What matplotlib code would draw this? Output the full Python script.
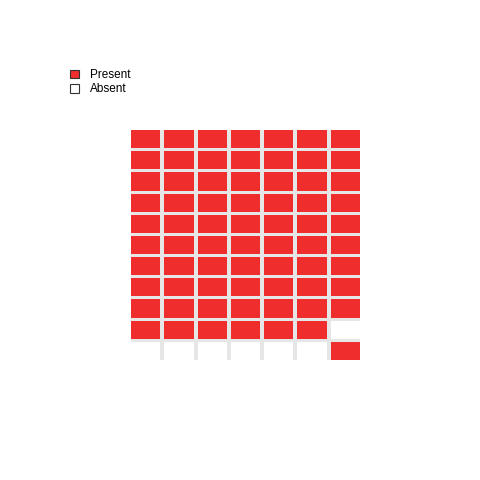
import matplotlib
matplotlib.use('Agg')
from matplotlib import pyplot as plt
from matplotlib.patches import Patch

plt.rcParams['font.family'] = ['Liberation Sans', 'DejaVu Sans']

# waffle grid, top row first (P = present, A = absent)
grid_rows = [
    'PPPPPPP',
    'PPPPPPP',
    'PPPPPPP',
    'PPPPPPP',
    'PPPPPPP',
    'PPPPPPP',
    'PPPPPPP',
    'PPPPPPP',
    'PPPPPPP',
    'PPPPPPA',
    'AAAAAAP',
]
categories = ['Present', 'Absent']
codes = {'P': 'Present', 'A': 'Absent'}
colors = {'Present': '#ef2d2d', 'Absent': '#ffffff'}

fig = plt.figure(figsize=(4.8, 4.8), dpi=100)
ax = fig.add_axes([131/480, 120/480, 229/480, 230/480])
ax.set_facecolor('#e6e6e6')

w = 0.88
h = 0.86
n_rows = len(grid_rows)
n_cols = len(grid_rows[0])
for r, row in enumerate(grid_rows):
    for c, code in enumerate(row):
        ax.bar(c, h, width=w, bottom=(n_rows - 1 - r) - h/2,
               color=colors[codes[code]], linewidth=0)

ax.set_xlim(-w/2, n_cols - 1 + w/2)
ax.set_ylim(-h/2, n_rows - 1 + h/2)
for s in ax.spines.values():
    s.set_visible(False)
ax.set_xticks([])
ax.set_yticks([])

handles = [Patch(facecolor=colors[k], edgecolor='#333333', linewidth=0.8, label=k)
           for k in categories]
fig.legend(handles=handles, loc='upper left', bbox_to_anchor=(0.137, 0.866),
           frameon=False, fontsize=8.5, handlelength=0.75, handleheight=0.75,
           handletextpad=0.9, labelspacing=0.2, borderaxespad=0)

fig.savefig('out.png', dpi=100, facecolor='white')
